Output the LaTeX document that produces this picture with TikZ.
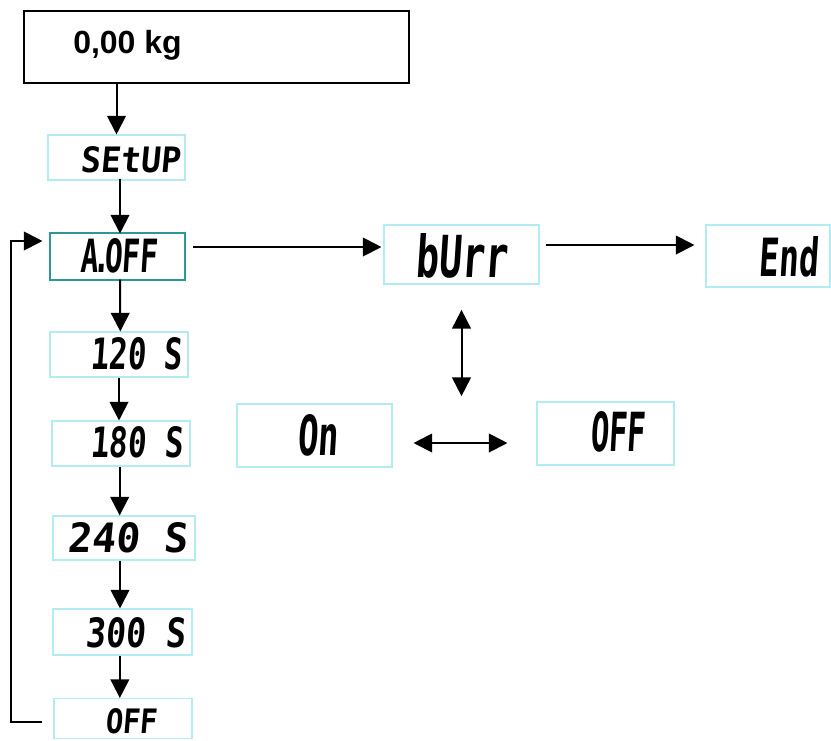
\documentclass[tikz,border=0pt]{standalone}
\usepackage{fontspec}
\usepackage{graphicx}
\usepackage{tikz}
\usetikzlibrary{arrows.meta}

\newfontfamily\lcdfont{DejaVu Sans Mono}[FakeSlant=0.1]
\newfontfamily\kgfont{Liberation Sans}
% LCD text squeezed to the width and height of the display (in px)
\newcommand{\lcdtext}[3]{\resizebox{\dimexpr#1pt*3/4\relax}{\dimexpr#2pt*3/4\relax}{\lcdfont\bfseries #3}}

\definecolor{lcdline}{RGB}{178,236,242}
\definecolor{selline}{RGB}{45,150,150}

\tikzset{
  lcdbox/.style={draw=lcdline, line width=0.8pt, fill=white, inner sep=0pt},
  lcdtxt/.style={anchor=south west, inner sep=0pt},
  arr/.style={-{Triangle[length=14pt,width=14pt]}, line width=1.5pt},
  dblarr/.style={{Triangle[length=14pt,width=14pt]}-{Triangle[length=14pt,width=14pt]}, line width=1.5pt}
}

\begin{document}
\begin{tikzpicture}[x=0.75pt,y=0.75pt,yscale=-1,xscale=1]
\useasboundingbox (0,0) rectangle (831,740);

%Display box
\node [draw, line width=1.8pt, minimum width=385*0.75pt, minimum height=72*0.75pt, inner sep=0pt] (kg) at (216.5,47) {};
\node [anchor=base west, inner sep=0pt, font=\kgfont\bfseries\fontsize{24pt}{26pt}\selectfont] (kgtxt) at (73,53) {0,00 kg};

%LCD boxes, left column
\node [lcdbox, minimum width=137*0.75pt, minimum height=45*0.75pt] (setup) at (116.5,157.5) {};
\node [lcdbox, draw=selline, minimum width=135*0.75pt, minimum height=47*0.75pt] (aoff) at (117.5,256.5) {};
\node [lcdbox, minimum width=138*0.75pt, minimum height=45*0.75pt] (s120) at (119,354.5) {};
\node [lcdbox, minimum width=138*0.75pt, minimum height=45*0.75pt] (s180) at (121,443.5) {};
\node [lcdbox, minimum width=142*0.75pt, minimum height=44*0.75pt] (s240) at (124,538) {};
\node [lcdbox, minimum width=139*0.75pt, minimum height=46*0.75pt] (s300) at (122.5,632) {};
\node [lcdbox, minimum width=138*0.75pt, minimum height=40*0.75pt] (offb) at (123,718.5) {};

%LCD boxes, right part
\node [lcdbox, minimum width=155*0.75pt, minimum height=59*0.75pt] (burr) at (461.5,254.5) {};
\node [lcdbox, minimum width=124*0.75pt, minimum height=62*0.75pt] (endb) at (768,256) {};
\node [lcdbox, minimum width=155*0.75pt, minimum height=63*0.75pt] (on) at (314.5,435.5) {};
\node [lcdbox, minimum width=137*0.75pt, minimum height=63*0.75pt] (offr) at (605.5,433.5) {};

% Text Node
\node [lcdtxt] (tsetup) at (80,173) {\lcdtext{100}{26}{SEtUP}};
\node [lcdtxt] (taoff) at (80,273) {\lcdtext{77}{34}{A\kern-.18em.\kern-.22em OFF}};
\node [lcdtxt] (t120) at (90,370) {\lcdtext{92}{32}{120 S}};
\node [lcdtxt] (t180) at (90,458) {\lcdtext{93}{31}{180 S}};
\node [lcdtxt] (t240) at (67,553) {\lcdtext{120}{30}{240 S}};
\node [lcdtxt] (t300) at (85,648) {\lcdtext{100}{30}{300 S}};
\node [lcdtxt] (toffb) at (105,734) {\lcdtext{52}{25}{OFF}};
\node [lcdtxt] (tburr) at (415,279) {\lcdtext{92}{44}{bUrr}};
\node [lcdtxt] (tend) at (758,278) {\lcdtext{60}{40}{End}};
\node [lcdtxt] (ton) at (297,457) {\lcdtext{41}{41}{On}};
\node [lcdtxt] (toffr) at (590,453) {\lcdtext{55}{40}{OFF}};

%Straight Lines
\draw [arr] ([yshift=-2]kg.south -| setup.north) -- (setup.north);
\draw [arr] ([shift={(3.5,-2)}]setup.south) -- ([shift={(2.5,1)}]aoff.north);
\draw [arr] ([shift={(2.5,-1)}]aoff.south) -- ([xshift=1]s120.north);
\draw [arr] (s120.south) -- (s120.south |- s180.north);
\draw [arr] ([xshift=-1]s180.south) -- ([xshift=-1]s180.south |- s240.north);
\draw [arr] ([xshift=-3]s240.south) -- ([xshift=-3]s240.south |- s300.north);
\draw [arr] ([xshift=-2]s300.south) -- ([xshift=-2]s300.south |- offb.north);

%Loop back to A.OFF
\draw [arr] ([shift={(-11,3.5)}]offb.west) -| ([shift={(-38,-15.5)}]aoff.west) -- ([shift={(-7,-15.5)}]aoff.west);

%Menu arrows
\draw [arr] ([shift={(7,-9.5)}]aoff.east) -- ([shift={(-2,-9.5)}]aoff.east -| burr.west);
\draw [arr] ([shift={(6,-9.5)}]burr.east) -- ([shift={(-11,-9.5)}]burr.east -| endb.west);
\draw [dblarr] ([yshift=19]burr.south) -- ([yshift=-4]burr.south |- offr.north);
\draw [dblarr] ([shift={(21,7.5)}]on.east) -- ([shift={(-29,7.5)}]on.east -| offr.west);

\end{tikzpicture}
\end{document}
